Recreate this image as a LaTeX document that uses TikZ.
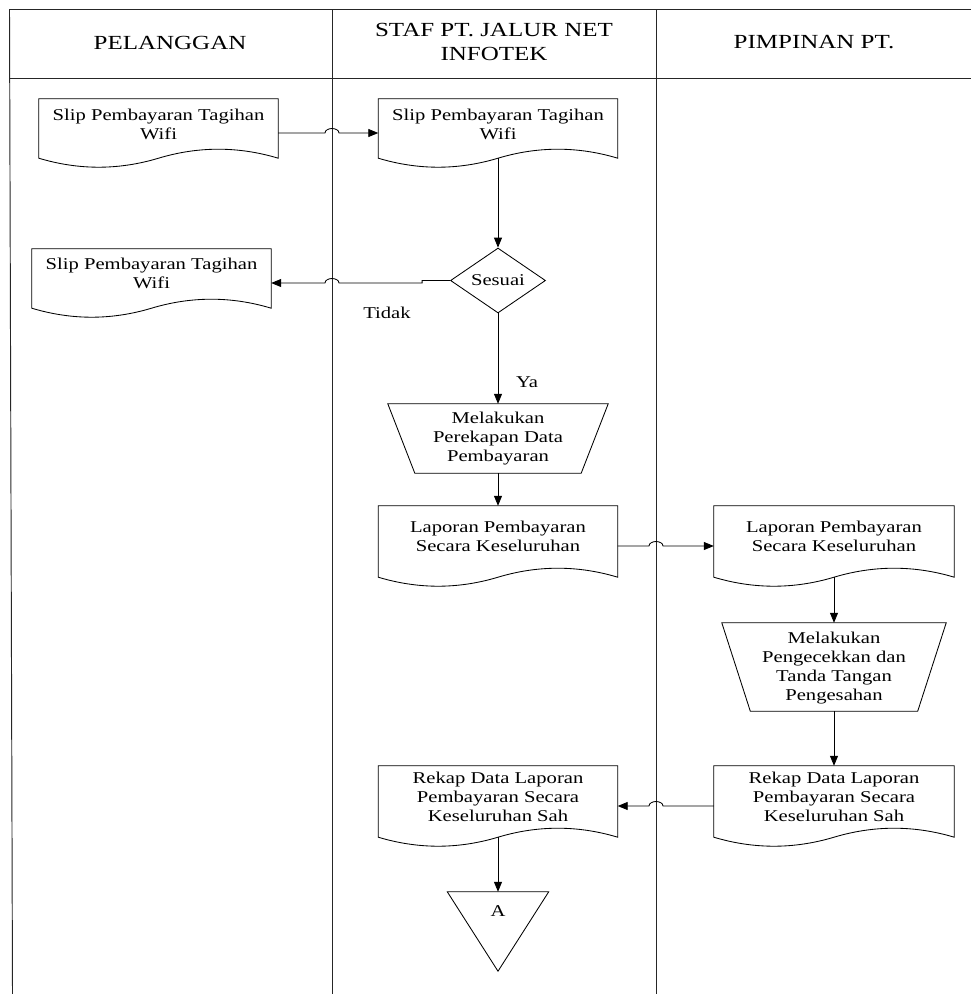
\documentclass[tikz,border=0pt]{standalone}
\usepackage{fontspec}
\setmainfont{Liberation Serif}[FakeStretch=1.25]
\usetikzlibrary{arrows.meta,calc,shapes.geometric}

\tikzset{
  frame/.style={line width=0.95pt, draw=black!85},
  outline/.style={line width=0.85pt, draw=black},
  flow/.style={line width=0.85pt, draw=black, -{Triangle[length=10pt,width=8pt]}},
  docbox/.style={minimum width=239pt, inner sep=0pt, draw=none},
  trapbox/.style={inner sep=0pt, draw=none},
  decision/.style={diamond, draw=black, line width=0.85pt, inner sep=0pt,
    minimum width=95pt, minimum height=62pt, font=\fontsize{16.5}{19}\selectfont},
  body/.style={align=center, font=\fontsize{16.5}{19}\selectfont, inner sep=0pt},
  head/.style={align=center, font=\fontsize{20}{24}\selectfont, inner sep=0pt},
}

% document symbol: flat top, sine-wave bottom
\newcommand\docoutline[1]{%
  \draw[outline] (#1.north west) -- (#1.north east) -- ($(#1.south east)+(0pt,9pt)$)
    .. controls ($(#1.south east)!1/3!(#1.south)+(0pt,21pt)$) and ($(#1.south east)!2/3!(#1.south)+(0pt,21pt)$) .. ($(#1.south)+(0pt,9pt)$)
    .. controls ($(#1.south)!1/3!(#1.south west)+(0pt,-3pt)$) and ($(#1.south)!2/3!(#1.south west)+(0pt,-3pt)$) .. ($(#1.south west)+(0pt,9pt)$)
    -- cycle;}
% manual operation symbol: wide top, narrow bottom
\newcommand\trapoutline[2]{%
  \draw[outline] (#1.north west) -- (#1.north east) -- ($(#1.south east)+(-#2pt,0pt)$)
    -- ($(#1.south west)+(#2pt,0pt)$) -- cycle;}

\begin{document}
\begin{tikzpicture}[x=1pt,y=-1pt]
\useasboundingbox (0,0) rectangle (971,994);

% swimlane frame
\coordinate (lane1) at (332,9);
\coordinate (lane2) at (656,9);
\draw[frame] (9.5,9) -- (971,9);
\draw[frame] (9.5,78) -- (971,78);
\draw[frame] (9.5,9) -- (12.5,994);
\draw[frame] (lane1) -- (332,994);
\draw[frame] (lane2) -- (656,994);

% lane titles
\node[head] (hPel) at (170,43.4) {PELANGGAN};
\node[head] (hStaf) at (494,42.4) {STAF PT. JALUR NET\\INFOTEK};
\node[head] (hPim) at (814,42.4) {PIMPINAN PT.};

% shapes
\node[docbox, minimum height=68pt] (slipP) at (158.5,133) {};
\docoutline{slipP}
\node[body] (slipPt) at (158.5,123.9) {Slip Pembayaran Tagihan\\Wifi};

\node[docbox, minimum height=68pt] (slipS) at (498,133) {};
\docoutline{slipS}
\node[body] (slipSt) at (498,123.9) {Slip Pembayaran Tagihan\\Wifi};

\node[decision] (cek) at (498,280.5) {Sesuai};

\node[docbox, minimum height=68pt] (slipR) at (151.5,283) {};
\docoutline{slipR}
\node[body] (slipRt) at (151.5,273.2) {Slip Pembayaran Tagihan\\Wifi};

\node[body] (tidak) at (387,313) {Tidak};
\node[body] (ya) at (527,382) {Ya};

\node[trapbox, minimum width=220pt, minimum height=69pt] (rekap) at (498,438.5) {};
\trapoutline{rekap}{27}
\node[body] (rekapt) at (498,439) {Melakukan\\Perekapan Data\\Pembayaran};

\node[docbox, minimum height=80pt] (lapS) at (498,546) {};
\docoutline{lapS}
\node[body] (lapSt) at (498,536) {Laporan Pembayaran\\Secara Keseluruhan};

\node[docbox, minimum width=240pt, minimum height=80pt] (lapP) at (834,546) {};
\docoutline{lapP}
\node[body] (lapPt) at (834,536) {Laporan Pembayaran\\Secara Keseluruhan};

\node[trapbox, minimum width=224pt, minimum height=88pt] (sah) at (834,667) {};
\trapoutline{sah}{28.5}
\node[body] (saht) at (834,667.7) {Melakukan\\Pengecekkan dan\\Tanda Tangan\\Pengesahan};

\node[docbox, minimum width=240pt, minimum height=80pt] (rekP) at (834,806) {};
\docoutline{rekP}
\node[body] (rekPt) at (834,796.4) {Rekap Data Laporan\\Pembayaran Secara\\Keseluruhan Sah};

\node[docbox, minimum height=80pt] (rekS) at (498,806) {};
\docoutline{rekS}
\node[body] (rekSt) at (498,796.4) {Rekap Data Laporan\\Pembayaran Secara\\Keseluruhan Sah};

\node[trapbox, minimum width=101pt, minimum height=79pt] (offA) at (498,931.5) {};
\draw[outline] (offA.north west) -- (offA.north east) -- (offA.south) -- cycle;
\node[body] (offAt) at (498,911.5) {A};

% connectors
\draw[flow] (slipP.east) -- ($(slipP.east -| lane1)+(-7,0)$)
  arc[start angle=180, end angle=0, x radius=7pt, y radius=4.5pt] -- (slipS.west);
\draw[flow] ($(slipS.south)+(0pt,9pt)$) -- (cek.north);
\draw[flow] (cek.west) -- ($(cek.west)+(-28,0)$) -- ($(slipR.east -| cek.west)+(-28,0)$)
  -- ($(slipR.east -| lane1)+(7,0)$)
  arc[start angle=0, end angle=180, x radius=7pt, y radius=4.5pt] -- (slipR.east);
\draw[flow] (cek.south) -- (rekap.north);
\draw[flow] (rekap.south) -- (lapS.north);
\draw[flow] (lapS.east) -- ($(lapS.east -| lane2)+(-7,0)$)
  arc[start angle=180, end angle=0, x radius=7pt, y radius=4.5pt] -- (lapP.west);
\draw[flow] ($(lapP.south)+(0pt,9pt)$) -- (sah.north);
\draw[flow] (sah.south) -- (rekP.north);
\draw[flow] (rekP.west) -- ($(rekP.west -| lane2)+(7,0)$)
  arc[start angle=0, end angle=180, x radius=7pt, y radius=4.5pt] -- (rekS.east);
\draw[flow] ($(rekS.south)+(0pt,9pt)$) -- (offA.north);
\end{tikzpicture}
\end{document}
